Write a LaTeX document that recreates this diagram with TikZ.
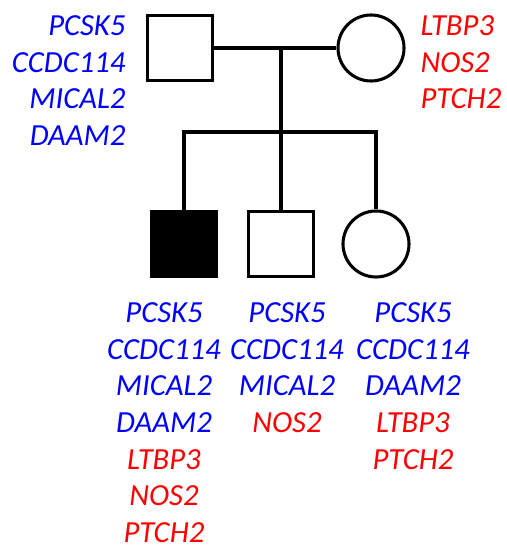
\documentclass[tikz,border=0pt]{standalone}
\usepackage{fontspec}
\setmainfont{Carlito}
\usepackage{tikz}
\definecolor{geneblue}{RGB}{0,0,255}
\definecolor{genered}{RGB}{255,0,0}
\tikzset{
  male/.style={rectangle, draw, minimum size=49pt, inner sep=0pt},
  female/.style={circle, draw, minimum size=49.5pt, inner sep=0pt},
  genes/.style={inner sep=0pt, font=\fontsize{23}{27.5}\selectfont\itshape},
}
\newcommand{\bl}[1]{\textcolor{geneblue}{#1}}
\newcommand{\rd}[1]{\textcolor{genered}{#1}}

\begin{document}
\begin{tikzpicture}[x=0.75pt, y=-0.75pt, line width=2.3pt]
\useasboundingbox (0,0) rectangle (506,548);
% Parents
\node[male] (father) at (180,48) {};
\node[female] (mother) at (371,48) {};

% Children
\node[male, fill=black] (son1) at (184,244) {};
\node[male] (son2) at (281,244) {};
\node[female] (daughter) at (376,244) {};

% Lines
\coordinate (couple) at (281,48);
\coordinate (sibs) at (281,132);
\draw (father) -- (mother);
\draw (couple) -- (sibs);
\draw (son1) -- (son1 |- sibs) -- (daughter |- sibs) -- (daughter);
\draw (sibs) -- (son2);

% Gene lists
\node[genes, text=geneblue, align=right, anchor=north east] (fgenes) at (127,14) {PCSK5\\CCDC114\\MICAL2\\DAAM2};
\node[genes, text=genered, align=left, anchor=north west] (mgenes) at (419,14) {LTBP3\\NOS2\\PTCH2};
\node[genes, align=center, anchor=north] (s1genes) at (164,301) {\bl{PCSK5}\\\bl{CCDC114}\\\bl{MICAL2}\\\bl{DAAM2}\\\rd{LTBP3}\\\rd{NOS2}\\\rd{PTCH2}};
\node[genes, align=center, anchor=north] (s2genes) at (287,301) {\bl{PCSK5}\\\bl{CCDC114}\\\bl{MICAL2}\\\rd{NOS2}};
\node[genes, align=center, anchor=north] (dgenes) at (413,301) {\bl{PCSK5}\\\bl{CCDC114}\\\bl{DAAM2}\\\rd{LTBP3}\\\rd{PTCH2}};
\end{tikzpicture}
\end{document}
